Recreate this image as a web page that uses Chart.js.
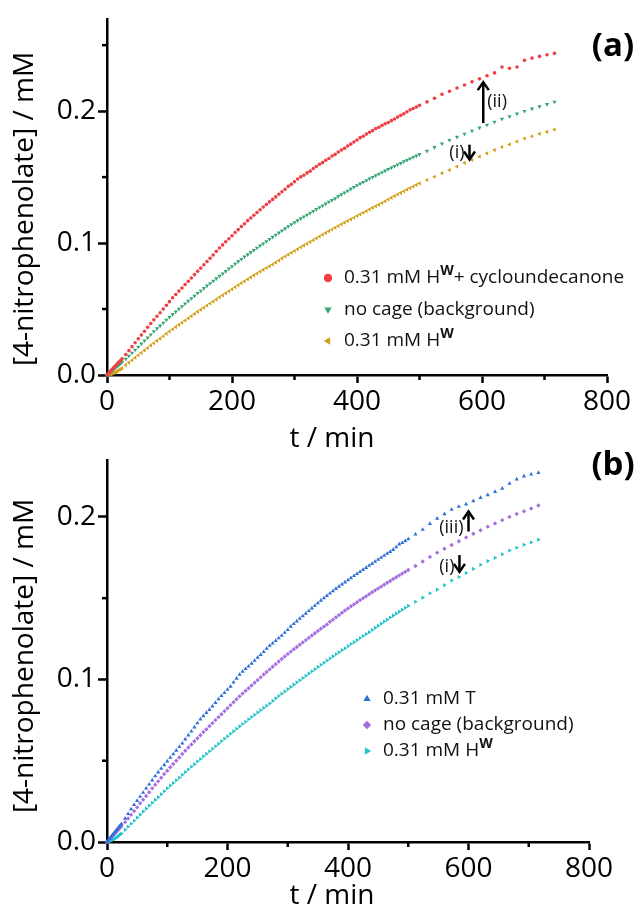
<!DOCTYPE html>
<html>
<head>
<meta charset="utf-8">
<script src="https://cdn.jsdelivr.net/npm/chart.js@4.4.1/dist/chart.umd.min.js"></script>
<style>
  html, body { margin: 0; padding: 0; background: #fff; }
  .panel { position: absolute; left: 0; width: 640px; }
  #panelA { top: 0; height: 459px; }
  #panelB { top: 420px; height: 498px; }
</style>
</head>
<body>
<div class="panel" id="panelA"><canvas id="chartA" width="640" height="459"></canvas></div>
<div class="panel" id="panelB"><canvas id="chartB" width="640" height="498"></canvas></div>
<script>
// ---------- data (t in min, concentrations in mM) ----------
const times = [0,2,4,6,8,10,12,14,16,18,20,22,24,
  30,35,40,45,50,55,60,65,70,75,80,85,90,95,100,
  105,110,115,120,125,130,135,140,145,150,155,160,165,170,175,180,185,190,195,200,
  205,210,215,220,225,230,235,240,245,250,255,260,265,270,275,280,285,290,295,300,
  305,310,315,320,325,330,335,340,345,350,355,360,365,370,375,380,385,390,395,400,
  405,410,415,420,425,430,435,440,445,450,455,460,465,470,475,480,485,490,495,500,
  512,524,536,548,560,572,584,596,608,620,632,644,656,668,680,692,704,716];

// 0.31 mM HW + cycloundecanone
const hwKetone = [0.0000,0.0010,0.0020,0.0030,0.0042,0.0052,0.0062,0.0072,0.0082,0.0092,0.0102,0.0112,0.0122,
  0.0155,0.0185,0.0215,0.0244,0.0275,0.0303,0.0332,0.0362,0.0390,0.0418,0.0445,0.0472,0.0500,0.0528,0.0556,
  0.0585,0.0610,0.0636,0.0660,0.0686,0.0711,0.0735,0.0761,0.0786,0.0810,0.0836,0.0860,0.0885,0.0910,0.0938,0.0963,0.0986,0.1010,0.1033,0.1056,
  0.1080,0.1102,0.1126,0.1147,0.1170,0.1190,0.1211,0.1232,0.1253,0.1273,0.1292,0.1312,0.1331,0.1350,0.1370,0.1389,0.1408,0.1430,0.1445,0.1465,
  0.1486,0.1502,0.1514,0.1532,0.1545,0.1565,0.1580,0.1597,0.1610,0.1628,0.1641,0.1660,0.1672,0.1690,0.1705,0.1718,0.1735,0.1750,0.1766,0.1781,
  0.1799,0.1810,0.1826,0.1840,0.1852,0.1868,0.1878,0.1892,0.1904,0.1914,0.1928,0.1940,0.1955,0.1968,0.1980,0.1995,0.2010,0.2020,0.2032,0.2045,
  0.2070,0.2098,0.2128,0.2150,0.2175,0.2198,0.2222,0.2245,0.2268,0.2290,0.2335,0.2325,0.2335,0.2385,0.2402,0.2415,0.2428,0.2438];

// no cage (background)
const noCage = [0.0000,0.0008,0.0016,0.0025,0.0033,0.0041,0.0049,0.0057,0.0065,0.0073,0.0081,0.0089,0.0097,
  0.0122,0.0145,0.0167,0.0190,0.0213,0.0238,0.0260,0.0283,0.0306,0.0330,0.0352,0.0373,0.0395,0.0418,0.0438,
  0.0460,0.0480,0.0500,0.0520,0.0541,0.0561,0.0581,0.0600,0.0620,0.0638,0.0657,0.0676,0.0694,0.0713,0.0731,0.0750,0.0768,0.0786,0.0805,0.0823,
  0.0842,0.0860,0.0878,0.0896,0.0913,0.0930,0.0946,0.0963,0.0980,0.0996,0.1013,0.1030,0.1046,0.1062,0.1078,0.1094,0.1110,0.1126,0.1141,0.1156,
  0.1171,0.1186,0.1200,0.1214,0.1228,0.1242,0.1256,0.1270,0.1284,0.1298,0.1312,0.1325,0.1338,0.1355,0.1368,0.1382,0.1396,0.1410,0.1424,0.1437,
  0.1450,0.1462,0.1475,0.1488,0.1500,0.1512,0.1524,0.1536,0.1548,0.1560,0.1571,0.1583,0.1595,0.1606,0.1618,0.1629,0.1640,0.1651,0.1662,0.1673,
  0.1698,0.1726,0.1754,0.1780,0.1804,0.1827,0.1850,0.1874,0.1896,0.1918,0.1940,0.1960,0.1980,0.2000,0.2018,0.2035,0.2052,0.2070];

// 0.31 mM HW
const hw = [0.0000,0.0002,0.0004,0.0007,0.0010,0.0014,0.0018,0.0023,0.0028,0.0034,0.0040,0.0046,0.0052,
  0.0075,0.0094,0.0112,0.0131,0.0150,0.0168,0.0187,0.0205,0.0224,0.0241,0.0259,0.0276,0.0294,0.0312,0.0330,
  0.0347,0.0363,0.0380,0.0396,0.0413,0.0430,0.0446,0.0463,0.0479,0.0495,0.0510,0.0527,0.0542,0.0558,0.0573,0.0589,0.0604,0.0620,0.0635,0.0650,
  0.0666,0.0681,0.0696,0.0711,0.0726,0.0740,0.0755,0.0769,0.0783,0.0797,0.0811,0.0825,0.0838,0.0852,0.0868,0.0884,0.0898,0.0912,0.0926,0.0940,
  0.0954,0.0968,0.0982,0.0995,0.1009,0.1022,0.1036,0.1050,0.1063,0.1077,0.1090,0.1103,0.1116,0.1129,0.1142,0.1155,0.1167,0.1180,0.1192,0.1205,
  0.1218,0.1230,0.1242,0.1255,0.1267,0.1279,0.1291,0.1304,0.1317,0.1330,0.1343,0.1356,0.1368,0.1381,0.1393,0.1405,0.1417,0.1429,0.1441,0.1453,
  0.1478,0.1503,0.1530,0.1553,0.1580,0.1608,0.1630,0.1655,0.1680,0.1705,0.1728,0.1748,0.1770,0.1793,0.1810,0.1828,0.1843,0.1860];

// 0.31 mM T
const cageT = [0.0000,0.0010,0.0020,0.0029,0.0038,0.0047,0.0056,0.0066,0.0075,0.0084,0.0093,0.0103,0.0112,
  0.0145,0.0173,0.0202,0.0229,0.0254,0.0279,0.0304,0.0330,0.0355,0.0380,0.0405,0.0429,0.0452,0.0474,0.0497,
  0.0519,0.0541,0.0563,0.0585,0.0607,0.0632,0.0657,0.0681,0.0706,0.0731,0.0755,0.0775,0.0795,0.0814,0.0835,0.0857,0.0879,0.0899,0.0918,0.0938,
  0.0957,0.0982,0.1006,0.1030,0.1048,0.1065,0.1081,0.1098,0.1116,0.1135,0.1152,0.1170,0.1190,0.1208,0.1222,0.1238,0.1254,0.1270,0.1288,0.1305,
  0.1326,0.1342,0.1358,0.1374,0.1390,0.1406,0.1422,0.1438,0.1454,0.1470,0.1486,0.1500,0.1515,0.1530,0.1544,0.1558,0.1572,0.1585,0.1598,0.1611,
  0.1624,0.1637,0.1650,0.1662,0.1675,0.1687,0.1700,0.1712,0.1725,0.1737,0.1750,0.1762,0.1774,0.1786,0.1798,0.1814,0.1832,0.1840,0.1852,0.1864,
  0.1893,0.1922,0.1958,0.1990,0.2018,0.2045,0.2063,0.2078,0.2098,0.2118,0.2135,0.2155,0.2175,0.2205,0.2232,0.2250,0.2262,0.2272];

const xMinor = [100, 300, 500, 700];
const yMinorA = [0.05, 0.15, 0.25];
const yMinorB = [0.05, 0.15];

const FONT = '"Open Sans", sans-serif';
Chart.defaults.font.family = FONT;

function pts(ys) {
  return times.map((t, i) => ({ x: t, y: ys[i] }));
}

function series(label, ys, color, style, rotation, radius) {
  return {
    label, data: pts(ys),
    backgroundColor: color, borderColor: color, borderWidth: 0,
    pointStyle: style, rotation: rotation, pointRadius: radius, pointHoverRadius: radius,
    showLine: false, clip: false
  };
}

// ---------- drawing helpers ----------
function line(ctx, x1, y1, x2, y2) {
  ctx.beginPath(); ctx.moveTo(x1, y1); ctx.lineTo(x2, y2); ctx.stroke();
}

function arrow(ctx, x, yTail, yTip) {
  const dir = yTip < yTail ? 1 : -1;
  ctx.lineWidth = 2.5;
  line(ctx, x, yTail, x, yTip + dir);
  ctx.beginPath();
  ctx.moveTo(x - 5.5, yTip + dir * 8);
  ctx.lineTo(x, yTip);
  ctx.lineTo(x + 5.5, yTip + dir * 8);
  ctx.stroke();
}

function richText(ctx, segs, x, y, size) {
  let cx = x;
  segs.forEach(s => {
    if (s.sup) {
      ctx.font = 'bold ' + Math.round(size * 0.72) + 'px ' + FONT;
      ctx.fillText(s.t, cx, y - size * 0.36);
    } else {
      ctx.font = size + 'px ' + FONT;
      ctx.fillText(s.t, cx, y);
    }
    cx += ctx.measureText(s.t).width;
  });
}

const decor = {
  id: 'decor',
  afterDraw(chart, args, o) {
    const { ctx, chartArea } = chart;
    const x = chart.scales.x, y = chart.scales.y;
    ctx.save();
    ctx.strokeStyle = '#000';
    ctx.fillStyle = '#000';
    ctx.lineWidth = 2.5;

    // minor ticks
    xMinor.forEach(v => {
      const px = x.getPixelForValue(v);
      line(ctx, px, chartArea.bottom, px, chartArea.bottom + 5);
    });
    o.yMinor.forEach(v => {
      const py = y.getPixelForValue(v);
      line(ctx, chartArea.left, py, chartArea.left - 5, py);
    });

    // axis titles
    ctx.textBaseline = 'alphabetic';
    ctx.textAlign = 'center';
    ctx.font = '28px ' + FONT;
    ctx.fillText('t / min', o.xTitle[0], o.xTitle[1]);
    ctx.save();
    ctx.translate(o.yTitle[0], o.yTitle[1]);
    ctx.rotate(-Math.PI / 2);
    ctx.textBaseline = 'middle';
    ctx.fillText('[4-nitrophenolate] / mM', 0, 0);
    ctx.restore();

    // panel label
    ctx.font = 'bold 33px ' + FONT;
    ctx.textBaseline = 'middle';
    ctx.fillText(o.panel, o.panelPos[0], o.panelPos[1]);

    // legend
    ctx.textAlign = 'left';
    ctx.textBaseline = 'middle';
    o.legend.forEach((e, i) => {
      const ly = o.legendY + i * o.legendGap;
      const ds = chart.data.datasets[e.ds];
      ctx.fillStyle = ds.backgroundColor;
      Chart.helpers.drawPoint(ctx, {
        pointStyle: ds.pointStyle, rotation: ds.rotation, radius: 4.2, borderWidth: 0
      }, o.legendX, ly);
      ctx.fillStyle = '#111';
      richText(ctx, e.text, o.legendX + 16, ly, 19);
    });

    // arrows with roman labels
    ctx.strokeStyle = '#000';
    ctx.fillStyle = '#111';
    o.arrows.forEach(a => {
      const ax = x.getPixelForValue(a.t);
      const y1 = y.getPixelForValue(a.from), y2 = y.getPixelForValue(a.to);
      arrow(ctx, ax, y1, y2);
      const ly = y.getPixelForValue(a.labelY);
      ctx.font = '18px ' + FONT;
      if (a.side === 'right') {
        ctx.textAlign = 'left';
        ctx.fillText(a.label, ax + 4, ly);
      } else {
        ctx.textAlign = 'right';
        ctx.fillText(a.label, ax - 5, ly);
      }
    });
    ctx.restore();
  }
};

function makeChart(id, cfg) {
  return new Chart(document.getElementById(id), {
    type: 'scatter',
    data: { datasets: cfg.datasets },
    options: {
      responsive: false,
      animation: false,
      events: [],
      layout: { padding: { left: 0, right: cfg.padRight, top: cfg.padTop, bottom: 0 } },
      plugins: {
        legend: { display: false },
        tooltip: { enabled: false },
        decor: cfg.decor
      },
      scales: {
        x: {
          type: 'linear', min: 0, max: 800,
          afterFit: s => { s.height = cfg.xHeight; },
          ticks: { stepSize: 200, color: '#000', font: { size: 28 }, padding: 2, maxRotation: 0 },
          grid: { drawOnChartArea: false, tickLength: 8, tickWidth: 2.5, tickColor: '#000' },
          border: { display: true, color: '#000', width: 2.5 }
        },
        y: {
          type: 'linear', min: 0, max: cfg.yMax,
          afterFit: s => { s.width = cfg.yWidth; },
          ticks: {
            stepSize: 0.1, includeBounds: false, color: '#000', font: { size: 28 }, padding: 2,
            callback: v => v.toFixed(1)
          },
          grid: { drawOnChartArea: false, tickLength: 9, tickWidth: 2.5, tickColor: '#000' },
          border: { display: true, color: '#000', width: 2.5 }
        }
      }
    },
    plugins: [decor]
  });
}

// ---------- panel (a) ----------
makeChart('chartA', {
  padRight: 33, padTop: 13, xHeight: 84, yWidth: 107, yMax: 0.27,
  datasets: [
    series('0.31 mM HW + cycloundecanone', hwKetone, '#ef3f45', 'circle', 0, 1.8),
    series('no cage (background)', noCage, '#33a56f', 'triangle', 180, 2.4),
    series('0.31 mM HW', hw, '#d29f14', 'triangle', 270, 2.4)
  ],
  decor: {
    yMinor: yMinorA,
    xTitle: [332, 447], yTitle: [25, 209],
    panel: '(a)', panelPos: [613, 47],
    legendX: 328, legendY: 278, legendGap: 31.5,
    legend: [
      { ds: 0, text: [{ t: '0.31 mM H' }, { t: 'W', sup: true }, { t: '+ cycloundecanone' }] },
      { ds: 1, text: [{ t: 'no cage (background)' }] },
      { ds: 2, text: [{ t: '0.31 mM H' }, { t: 'W', sup: true }] }
    ],
    arrows: [
      { t: 602, from: 0.191, to: 0.222, label: '(ii)', labelY: 0.207, side: 'right' },
      { t: 580, from: 0.1746, to: 0.1634, label: '(i)', labelY: 0.1684, side: 'left' }
    ]
  }
});

// ---------- panel (b) ----------
makeChart('chartB', {
  padRight: 51, padTop: 40, xHeight: 76, yWidth: 107, yMax: 0.235,
  datasets: [
    series('0.31 mM T', cageT, '#2e6fd8', 'triangle', 0, 2.4),
    series('no cage (background)', noCage, '#a66fe0', 'rectRot', 0, 2.2),
    series('0.31 mM HW', hw, '#1fc4c8', 'triangle', 90, 2.4)
  ],
  decor: {
    yMinor: yMinorB,
    xTitle: [332, 484], yTitle: [25, 236],
    panel: '(b)', panelPos: [613, 46],
    legendX: 367, legendY: 279, legendGap: 26,
    legend: [
      { ds: 0, text: [{ t: '0.31 mM T' }] },
      { ds: 1, text: [{ t: 'no cage (background)' }] },
      { ds: 2, text: [{ t: '0.31 mM H' }, { t: 'W', sup: true }] }
    ],
    arrows: [
      { t: 600, from: 0.191, to: 0.2033, label: '(iii)', labelY: 0.193, side: 'left' },
      { t: 585, from: 0.1765, to: 0.1662, label: '(i)', labelY: 0.169, side: 'left' }
    ]
  }
});
</script>
</body>
</html>
